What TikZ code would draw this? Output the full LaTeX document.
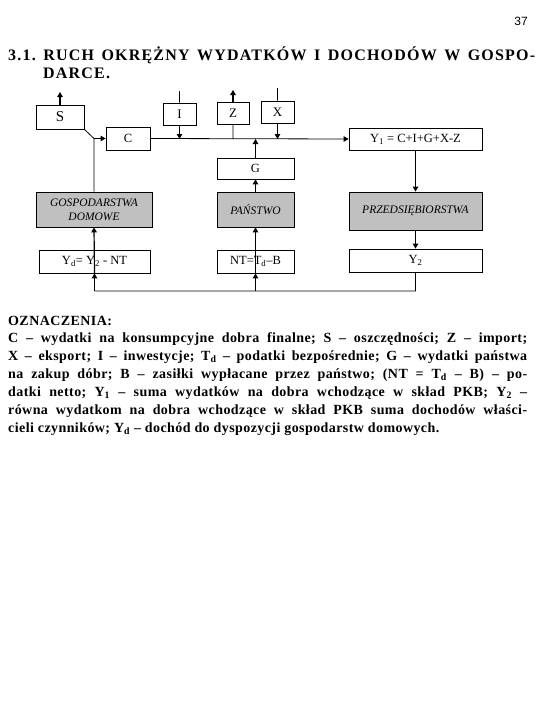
\documentclass[tikz,border=0pt]{standalone}
\usepackage{fontspec}
\setmainfont{Liberation Serif}[BoldFont={Liberation Serif Bold}, ItalicFont={Liberation Serif Italic}, BoldItalicFont={Liberation Serif Bold Italic}]
\newfontfamily\stronafont{Liberation Sans}
\usetikzlibrary{arrows.meta,calc}
\definecolor{szary}{RGB}{192,192,192}
\frenchspacing

\tikzset{
	blok/.style={draw, line width=0.8pt, inner sep=0pt, font=\fontsize{12.5}{14}\selectfont},
	sektor/.style={blok, fill=szary, align=center, font=\fontsize{11.5}{14}\selectfont\itshape},
	linia/.style={line width=0.8pt},
	strz/.style={->, line width=1.2pt},
	>={Triangle[length=5pt,width=5.5pt]}
}

\begin{document}
\begin{tikzpicture}[x=1pt,y=-1pt]
\useasboundingbox (0,0) rectangle (540,720);
\node[anchor=base east, inner sep=0pt, font=\stronafont\fontsize{12}{14}\selectfont](strona) at (528,25){37};
\node[anchor=base west, inner sep=0pt, font=\fontsize{16}{18}\selectfont\bfseries\addfontfeature{LetterSpace=7.5}](tytul) at (8,60){\parbox[t]{527pt}{\makebox[527pt][s]{3.1. RUCH OKRĘŻNY WYDATKÓW I DOCHODÓW W GOSPO-}\\\hspace*{35pt}DARCE.}};

\node[blok, minimum width=48pt, minimum height=24pt, font=\fontsize{15}{16}\selectfont](S) at (60,117){S};
\node[blok, minimum width=44pt, minimum height=23pt](C) at (128,138.5){C};
\node[blok, minimum width=33pt, minimum height=22pt, font=\fontsize{13}{14}\selectfont](I) at (179.5,114){I};
\node[blok, minimum width=32pt, minimum height=22pt, font=\fontsize{13}{14}\selectfont](Z) at (233,113){Z};
\node[blok, minimum width=33pt, minimum height=22pt, font=\fontsize{13}{14}\selectfont](X) at (277.5,112){X};
\node[blok, minimum width=133pt, minimum height=22pt](Y1) at (415.5,139){Y\textsubscript{1} = C+I+G+X-Z};
\node[blok, minimum width=77pt, minimum height=21pt](G) at (255.5,168.5){G};
\node[sektor, minimum width=116pt, minimum height=35pt](GD) at (94,209.5){GOSPODARSTWA\\DOMOWE};
\node[sektor, minimum width=77pt, minimum height=35pt](PA) at (255.5,209.5){PAŃSTWO};
\node[sektor, minimum width=133pt, minimum height=38pt](PR) at (415.5,211){PRZEDSIĘBIORSTWA};
\node[blok, minimum width=111pt, minimum height=23pt](Yd) at (94.5,261.5){Y\textsubscript{d}= Y\textsubscript{2} - NT};
\node[blok, minimum width=77pt, minimum height=23pt](NT) at (255.5,261.5){NT=T\textsubscript{d}–B};
\node[blok, minimum width=133pt, minimum height=23pt](Y2) at (415.5,260.5){Y\textsubscript{2}};

\coordinate(Swy) at (60,92);
\coordinate(Iwe) at (179.5,91);
\coordinate(Zwy) at (233,90);
\coordinate(Xwe) at (277.5,88);
\coordinate(wez) at (GD.north |- C.west);
\coordinate(dol) at ($(Y2.south)+(0,18.5)$);

\draw[strz](S.north)--(Swy);
\draw[strz](Z.north)--(Zwy);
\draw[linia](Iwe)--(I.north) (Xwe)--(X.north)
	(S.south east)--(wez) (GD.north)--(wez)
	(Z.south)--(Z.south |- Y1.west)
	(Y2.south)--(dol)--(dol -| Yd.south);
\draw[linia,->](wez)--(C.west);
\draw[linia,->](C.east)--(Y1.west);
\draw[strz](I.south)--(I.south |- Y1.west);
\draw[strz](X.south)--(X.south |- Y1.west);
\draw[strz](G.north)--(G.north |- Y1.west);
\draw[strz](PA.north)--(G.south);
\draw[strz](Y1.south)--(PR.north);
\draw[strz](PR.south)--(Y2.north);
\draw[strz](NT.south)--(PA.south);
\draw[strz](Yd.south)--(GD.south);
\draw[strz](dol -| Yd.south)--(Yd.south);
\draw[strz](dol -| NT.south)--(NT.south);

\node[anchor=base west, inner sep=0pt, font=\fontsize{14}{17.9}\selectfont\bfseries\addfontfeature{LetterSpace=3}](opis) at (8,325){\parbox[t]{519pt}{\tolerance=10000\hyphenpenalty=10000
OZNACZENIA:\\
C – wydatki na konsumpcyjne dobra finalne; S – oszczędności; Z – import;\linebreak
X – eksport; I – inwestycje; T\textsubscript{d} – podatki bezpośrednie; G – wydatki państwa\linebreak
na zakup dóbr; B – zasiłki wypłacane przez państwo; (NT = T\textsubscript{d} – B) – po-\linebreak
datki netto; Y\textsubscript{1} – suma wydatków na dobra wchodzące w skład PKB; Y\textsubscript{2} –\linebreak
równa wydatkom na dobra wchodzące w skład PKB suma dochodów właści-\linebreak
cieli czynników; Y\textsubscript{d} – dochód do dyspozycji gospodarstw domowych.}};
\end{tikzpicture}
\end{document}
